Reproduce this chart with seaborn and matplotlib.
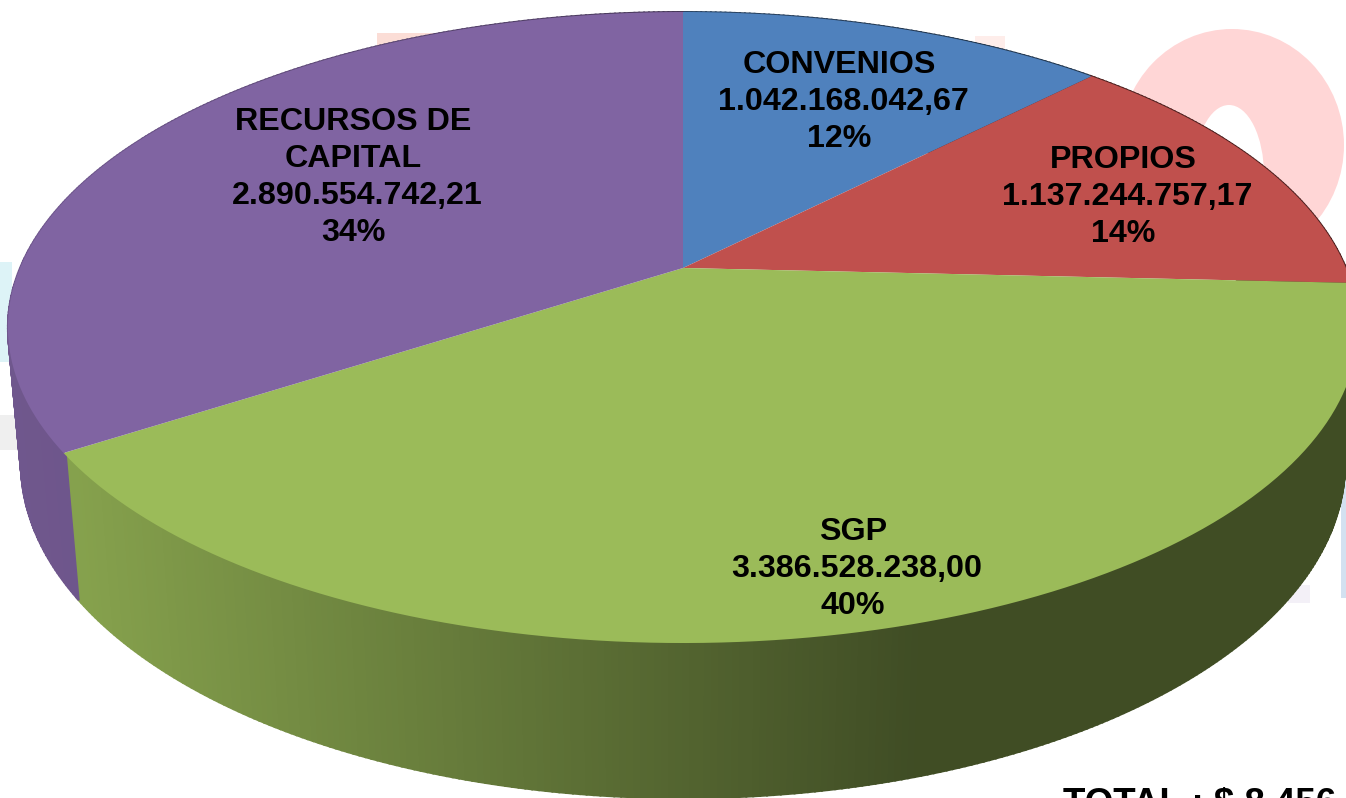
import numpy as np
import matplotlib
matplotlib.use('Agg')
import matplotlib.pyplot as plt
import seaborn as sns
from matplotlib.patches import Ellipse, Rectangle
from matplotlib.path import Path
from matplotlib.transforms import Transform

#chart values
names = [['CONVENIOS'], ['PROPIOS'], ['SGP'], ['RECURSOS DE', 'CAPITAL']]
values = [1042168042.67, 1137244757.17, 3386528238.00, 2890554742.21]
percents = [12, 14, 40, 34]
colors = ['#4F81BD', '#C0504D', '#9BBB59', '#8064A2']
total_label = 'TOTAL : $ 8.456'

#where each label block goes on the picture
label_x = [839, 1123, 853, 353]
label_y = [65, 160, 532, 122]

#top of the pie as seen in perspective
cx, cy = 683, 268
sx, sy, k = 663, 304.3, 0.1886
#how the lower rim shifts against the top one
rim_c, rim_d = 0.019, 136


def to_pixels(u, v):
    w = 1 + k * v
    return cx + sx * u / w, cy - sy * v / w


def to_rim(u, v):
    w = 1 + k * v + rim_c
    return cx + sx * u / w, cy + (rim_d - sy * v) / w


#tilts the flat pie wedges into the perspective view
class Tilt(Transform):
    input_dims = 2
    output_dims = 2
    is_separable = False

    def transform_non_affine(self, xy):
        xy = np.asarray(xy)
        return np.column_stack(to_pixels(xy[:, 0], xy[:, 1]))

    def transform_path_non_affine(self, path):
        pts = [seg(np.linspace(0, 1, 30)) for seg, code in path.iter_bezier()]
        return Path(self.transform_non_affine(np.vstack(pts)))


def value_text(v):
    return f'{v:,.2f}'.replace(',', '#').replace('.', ',').replace('#', '.')


sns.set_theme(style='white')
plt.rcParams['font.family'] = ['Liberation Sans', 'DejaVu Sans']

fig = plt.figure(figsize=(13.46, 7.98), dpi=100)
ax = fig.add_axes([0, 0, 1, 1])

palette = sns.color_palette(colors)
wedges, _ = ax.pie(values, colors=palette, startangle=90, counterclock=False,
                   wedgeprops={'linewidth': 0})
ax.set_aspect('auto')
ax.set_xlim(0, 1346)
ax.set_ylim(798, 0)
ax.axis('off')

#faint logo behind the chart
ax.add_patch(Ellipse((1232, 145), 224, 232, color='#FFD6D6', lw=0, zorder=0))
ax.add_patch(Ellipse((1229, 175), 70, 140, color='white', lw=0, zorder=0.1))
ax.add_patch(Rectangle((377, 33), 70, 25, color='#FBDDD6', lw=0, zorder=0))
ax.add_patch(Rectangle((975, 36), 30, 20, color='#FEEDEA', lw=0, zorder=0))
ax.add_patch(Rectangle((0, 262), 12, 100, color='#DDF3F7', lw=0, zorder=0))
ax.add_patch(Rectangle((0, 415), 20, 35, color='#EFEFEF', lw=0, zorder=0))
ax.add_patch(Rectangle((1341, 452), 5, 146, color='#D3E1F0', lw=0, zorder=0))
ax.add_patch(Rectangle((1288, 585), 22, 18, color='#F3F0F7', lw=0, zorder=0))

#side wall, shaded by how far right each strip sits
for w, col in zip(wedges, palette):
    w.set_transform(Tilt() + ax.transData)
    w.set_zorder(3)
    angles = np.radians(np.arange(w.theta1, w.theta2 + 0.5, 0.5))
    us, vs = np.cos(angles), np.sin(angles)
    tx, ty = to_pixels(us, vs)
    bx, by = to_rim(us, vs)
    for i in range(len(angles) - 1):
        shade = np.interp((tx[i] + tx[i + 1]) / 2, [0, 80, 920], [0.87, 0.86, 0.41])
        strip = tuple(c * shade for c in col)
        ax.fill([tx[i], tx[i + 1], bx[i + 1], bx[i]], [ty[i], ty[i + 1], by[i + 1], by[i]],
                color=strip, lw=1.4, zorder=2)

#labels
line_h = 37
for name, v, p, x, y in zip(names, values, percents, label_x, label_y):
    lines = name + [value_text(v), f'{p}%']
    for i, line in enumerate(lines):
        shift = 4 if i == len(name) else 0
        ax.text(x + shift, y + i * line_h, line, ha='center', va='center', fontsize=23.2,
                fontweight='bold', color='black', zorder=5)

ax.text(1063, 787, total_label, ha='left', va='top', fontsize=26.5, fontweight='bold',
        color='black', zorder=5)

fig.savefig('out.png', dpi=100)
